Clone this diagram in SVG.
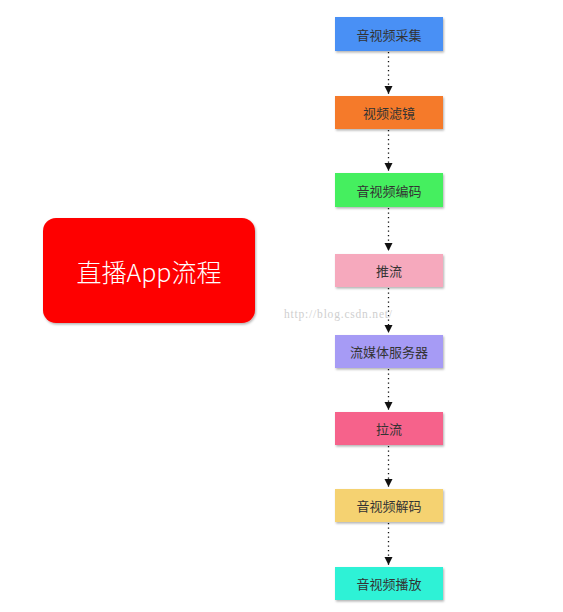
<svg xmlns="http://www.w3.org/2000/svg" width="563" height="612" viewBox="0 0 563 612">
<defs>
<style>
.box{stroke:none;filter:url(#sh)}
.lbl{font-family:"Noto Sans CJK SC","Liberation Sans",sans-serif;font-size:13px;fill:#333;text-anchor:middle;dominant-baseline:central}
.con{stroke:#111;stroke-width:1.3;stroke-dasharray:1.3 3.2;fill:none}
.ah{fill:#111}
</style>
<filter id="sh" x="-10%" y="-20%" width="125%" height="150%">
<feDropShadow dx="1" dy="1.5" stdDeviation="0.8" flood-color="#000" flood-opacity="0.3"/>
</filter>
</defs>
<rect width="563" height="612" fill="#fff"/>
<g id="title">
<rect x="43" y="218" width="212" height="105" rx="13" fill="#fe0000" filter="url(#sh)"/>
<text x="149" y="271" font-family="Noto Sans CJK SC,Liberation Sans,sans-serif" font-size="25" font-weight="300" fill="#fff" text-anchor="middle" dominant-baseline="central">直播App流程</text>
</g>
<g id="connectors">
<line class="con" x1="388.5" y1="52" x2="388.5" y2="94"/>
<path class="ah" d="M384.5,86 L392.5,86 L388.5,94 Z"/>
<line class="con" x1="388.5" y1="130" x2="388.5" y2="171"/>
<path class="ah" d="M384.5,163 L392.5,163 L388.5,171 Z"/>
<line class="con" x1="388.5" y1="208" x2="388.5" y2="251"/>
<path class="ah" d="M384.5,243 L392.5,243 L388.5,251 Z"/>
<line class="con" x1="388.5" y1="288" x2="388.5" y2="333"/>
<path class="ah" d="M384.5,325 L392.5,325 L388.5,333 Z"/>
<line class="con" x1="388.5" y1="369" x2="388.5" y2="410"/>
<path class="ah" d="M384.5,402 L392.5,402 L388.5,410 Z"/>
<line class="con" x1="388.5" y1="446" x2="388.5" y2="487"/>
<path class="ah" d="M384.5,479 L392.5,479 L388.5,487 Z"/>
<line class="con" x1="388.5" y1="523" x2="388.5" y2="565"/>
<path class="ah" d="M384.5,557 L392.5,557 L388.5,565 Z"/>
</g>
<g id="n1"><rect class="box" x="335" y="17" width="108" height="34" fill="#4a90f5"/><text class="lbl" x="389" y="34">音视频采集</text></g>
<g id="n2"><rect class="box" x="335" y="96" width="108" height="33" fill="#f57a2c"/><text class="lbl" x="389" y="112.5">视频滤镜</text></g>
<g id="n3"><rect class="box" x="335" y="173" width="108" height="34" fill="#45ef5e"/><text class="lbl" x="389" y="190">音视频编码</text></g>
<g id="n4"><rect class="box" x="335" y="254" width="108" height="33" fill="#f6a9bd"/><text class="lbl" x="389" y="270.5">推流</text></g>
<g id="n5"><rect class="box" x="335" y="335" width="108" height="33" fill="#a69bf5"/><text class="lbl" x="389" y="351.5">流媒体服务器</text></g>
<g id="n6"><rect class="box" x="335" y="412" width="108" height="33" fill="#f6628b"/><text class="lbl" x="389" y="428.5">拉流</text></g>
<g id="n7"><rect class="box" x="335" y="489" width="108" height="33" fill="#f5d271"/><text class="lbl" x="389" y="505.5">音视频解码</text></g>
<g id="n8"><rect class="box" x="335" y="567" width="108" height="33" fill="#2ef2d6"/><text class="lbl" x="389" y="583.5">音视频播放</text></g>
<text x="284" y="314" font-family="Liberation Serif,serif" font-size="11.5" letter-spacing="0.8" fill="#cfcfcf" dominant-baseline="central">http://blog.csdn.net/</text>
</svg>
